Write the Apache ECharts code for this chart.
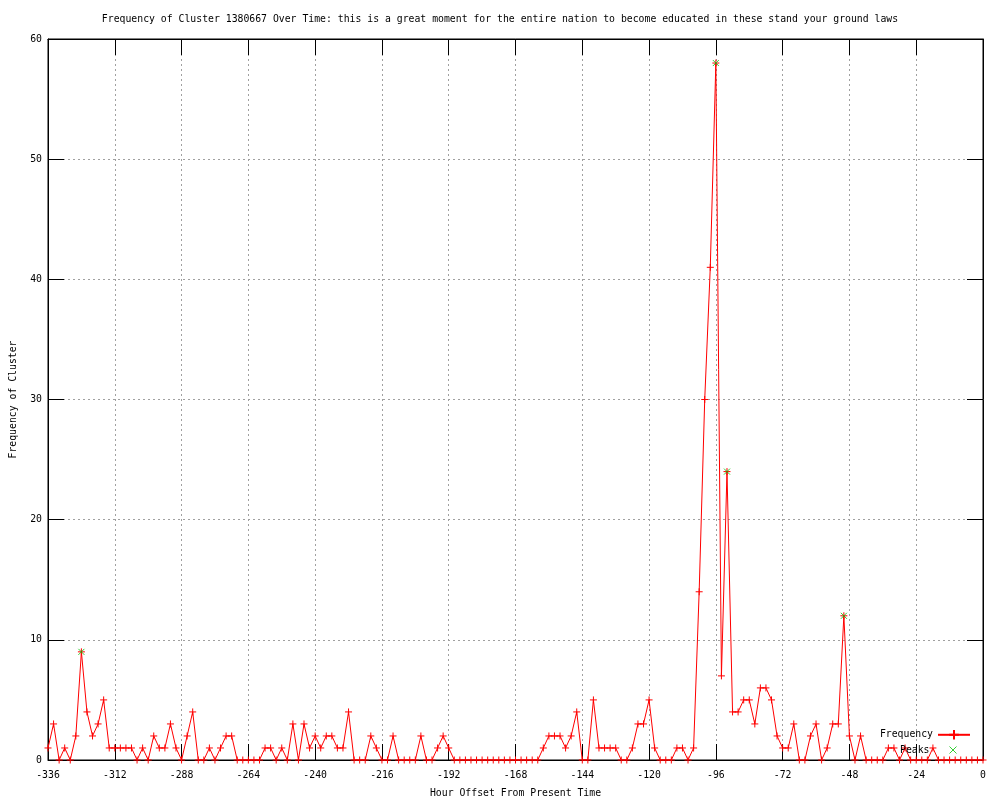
<!DOCTYPE html>
<html>
<head>
<meta charset="utf-8">
<script src="https://cdn.jsdelivr.net/npm/echarts@6/dist/echarts.min.js"></script>
<style>html,body{margin:0;padding:0;background:#fff}#c{width:1000px;height:800px}</style>
</head>
<body>
<div id="c"></div>
<script>
const titleText = 'Frequency of Cluster 1380667 Over Time: this is a great moment for the entire nation to become educated in these stand your ground laws';
const xName = 'Hour Offset From Present Time';
const yName = 'Frequency of Cluster';

const hours = [
  -336,-334,-332,-330,-328,-326,-324,-322,-320,-318,-316,-314,
  -312,-310,-308,-306,-304,-302,-300,-298,-296,-294,-292,-290,
  -288,-286,-284,-282,-280,-278,-276,-274,-272,-270,-268,-266,
  -264,-262,-260,-258,-256,-254,-252,-250,-248,-246,-244,-242,
  -240,-238,-236,-234,-232,-230,-228,-226,-224,-222,-220,-218,
  -216,-214,-212,-210,-208,-206,-204,-202,-200,-198,-196,-194,
  -192,-190,-188,-186,-184,-182,-180,-178,-176,-174,-172,-170,
  -168,-166,-164,-162,-160,-158,-156,-154,-152,-150,-148,-146,
  -144,-142,-140,-138,-136,-134,-132,-130,-128,-126,-124,-122,
  -120,-118,-116,-114,-112,-110,-108,-106,-104,-102,-100,-98,
  -96,-94,-92,-90,-88,-86,-84,-82,-80,-78,-76,-74,
  -72,-70,-68,-66,-64,-62,-60,-58,-56,-54,-52,-50,
  -48,-46,-44,-42,-40,-38,-36,-34,-32,-30,-28,-26,
  -24,-22,-20,-18,-16,-14,-12,-10,-8,-6,-4,-2,
  0
];
const frequency = [
  1,3,0,1,0,2,9,4,2,3,5,1,
  1,1,1,1,0,1,0,2,1,1,3,1,
  0,2,4,0,0,1,0,1,2,2,0,0,
  0,0,0,1,1,0,1,0,3,0,3,1,
  2,1,2,2,1,1,4,0,0,0,2,1,
  0,0,2,0,0,0,0,2,0,0,1,2,
  1,0,0,0,0,0,0,0,0,0,0,0,
  0,0,0,0,0,1,2,2,2,1,2,4,
  0,0,5,1,1,1,1,0,0,1,3,3,
  5,1,0,0,0,1,1,0,1,14,30,41,
  58,7,24,4,4,5,5,3,6,6,5,2,
  1,1,3,0,0,2,3,0,1,3,3,12,
  2,0,2,0,0,0,0,1,1,0,1,0,
  0,0,0,1,0,0,0,0,0,0,0,0,
  0
];
const peakHours = [-324, -96, -92, -50];
const peakValues = [9, 58, 24, 12];

const FONT = 'DejaVu Sans Mono';
const FS = 9.8;

const freqData = hours.map((h, i) => [h, frequency[i]]);
const peakData = peakHours.map((h, i) => [h, peakValues[i]]);

const plusPath = 'path://M5,0L5,10M0,5L10,5';
const crossPath = 'path://M0,0L10,10M10,0L0,10';

const chart = echarts.init(document.getElementById('c'), null, {renderer: 'canvas'});

const tick = {show: true, inside: true, length: 16, lineStyle: {color: '#000', width: 1}};
const line = {show: true, onZero: false, lineStyle: {color: '#000', width: 1}};
const grid = {color: '#a0a0a0', type: [2, 3], width: 1};

chart.setOption({
  animation: false,
  backgroundColor: '#fff',
  title: {
    text: titleText, left: 'center', top: 9,
    textStyle: {fontFamily: FONT, fontSize: FS, fontWeight: 'normal', color: '#000'}
  },
  grid: {left: 48, right: 17, top: 39, bottom: 40, containLabel: false, outerBoundsMode: 'none',
    show: true, borderColor: '#000', borderWidth: 1, backgroundColor: 'transparent'},
  xAxis: [
    {
      type: 'value', min: -336, max: 0, interval: 24, position: 'bottom',
      name: xName, nameLocation: 'middle', nameGap: 28,
      nameTextStyle: {fontFamily: FONT, fontSize: FS, color: '#000'},
      axisLine: line, axisTick: tick,
      axisLabel: {show: true, margin: 10, fontFamily: FONT, fontSize: FS, color: '#000',
        hideOverlap: false, showMinLabel: true, showMaxLabel: true},
      splitLine: {show: true, lineStyle: grid}
    },
    {
      type: 'value', min: -336, max: 0, interval: 24, position: 'top',
      axisLine: line, axisTick: tick, axisLabel: {show: false}, splitLine: {show: false}
    }
  ],
  yAxis: [
    {
      type: 'value', min: 0, max: 60, interval: 10, position: 'left',
      name: yName, nameLocation: 'middle', nameGap: 30, nameRotate: 90,
      nameTextStyle: {fontFamily: FONT, fontSize: FS, color: '#000'},
      axisLine: line, axisTick: tick,
      axisLabel: {show: true, margin: 6, fontFamily: FONT, fontSize: FS, color: '#000',
        showMinLabel: true, showMaxLabel: true},
      splitLine: {show: true, lineStyle: grid}
    },
    {
      type: 'value', min: 0, max: 60, interval: 10, position: 'right',
      axisLine: line, axisTick: tick, axisLabel: {show: false}, splitLine: {show: false}
    }
  ],
  legend: [
    {
      data: ['Frequency'], right: 24, top: 724, align: 'right', orient: 'vertical',
      itemWidth: 32, itemHeight: 12,
      textStyle: {fontFamily: FONT, fontSize: FS, color: '#000'},
      selectedMode: false
    },
    {
      data: [{name: 'Peaks', icon: crossPath}], right: 38, top: 740, align: 'right', orient: 'vertical',
      itemWidth: 7, itemHeight: 7,
      itemStyle: {color: '#00c000', borderColor: '#00c000', borderWidth: 1},
      textStyle: {fontFamily: FONT, fontSize: FS, color: '#000', padding: [0, 15, 0, 0]},
      selectedMode: false
    }
  ],
  series: [
    {
      name: 'Frequency', type: 'line', data: freqData,
      xAxisIndex: 0, yAxisIndex: 0,
      symbol: plusPath, symbolSize: 7, showSymbol: true, showAllSymbol: true,
      lineStyle: {color: '#ff0000', width: 1},
      itemStyle: {color: '#ff0000', borderColor: '#ff0000', borderWidth: 1},
      clip: false, z: 3
    },
    {
      name: 'Peaks', type: 'scatter', data: peakData,
      xAxisIndex: 0, yAxisIndex: 0,
      symbol: crossPath, symbolSize: 6,
      itemStyle: {color: '#00c000', borderColor: '#00c000', borderWidth: 1},
      z: 4
    }
  ]
});
</script>
</body>
</html>
